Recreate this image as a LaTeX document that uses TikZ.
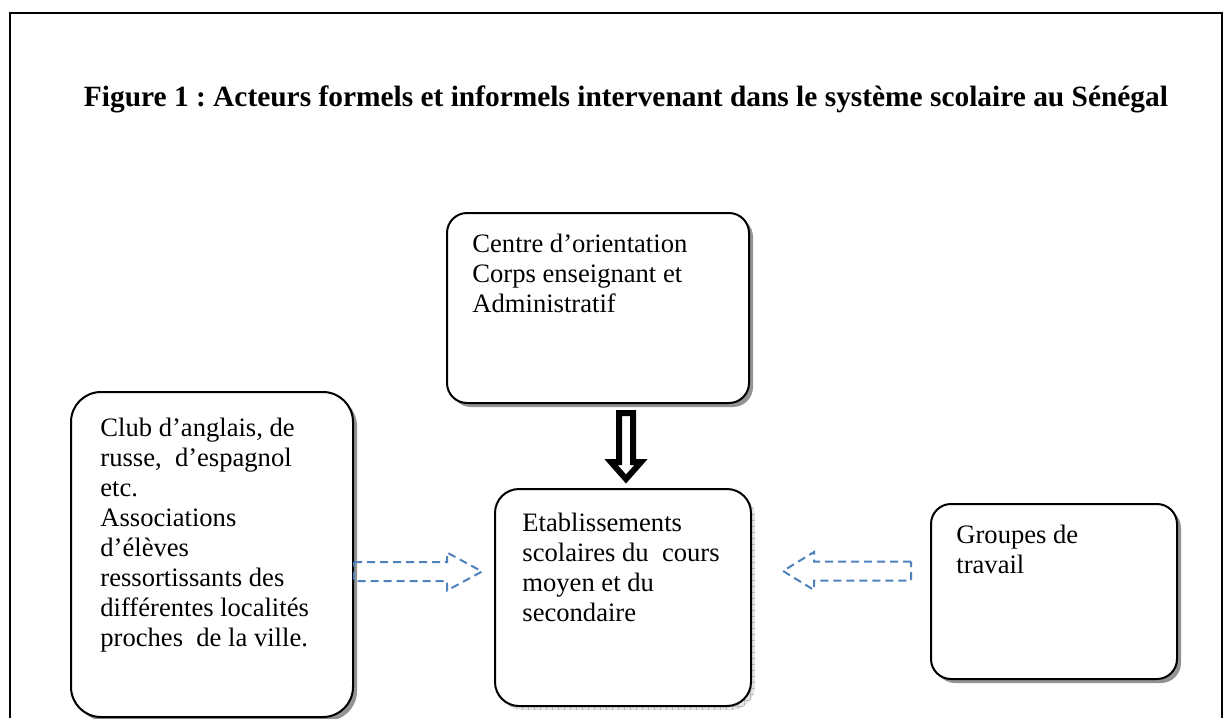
\documentclass[tikz,border=0pt]{standalone}
\usepackage{fontspec}
\setmainfont{Liberation Serif}
\usetikzlibrary{calc,shadows,patterns}
\definecolor{arrow blue}{HTML}{4F81BD}
\frenchspacing
\tikzset{box/.style={draw, line width=1pt, fill=white, rectangle, inner sep=0pt},
    shadowed/.style={drop shadow={shadow xshift=2pt, shadow yshift=-2pt, fill=gray!85, opacity=1}},
    gridshadow/.style={general shadow={shadow xshift=2pt, shadow yshift=-2pt, fill=gray!20},
        general shadow={shadow xshift=2pt, shadow yshift=-2pt, pattern=grid, pattern color=gray!55}},
    boxtext/.style={anchor=north west, inner sep=0pt, align=left, font=\fontsize{13.3}{15}\selectfont},
    hollow/.style={draw, line width=3pt, fill=white, line join=miter},
    dashed arrow/.style={draw=arrow blue, line width=1pt, dash pattern=on 4pt off 2.5pt}}

\begin{document}
\begin{tikzpicture}[x=0.5pt, y=-0.5pt]
     \useasboundingbox (0,0) rectangle (1232,718);
     % frame of the figure
     \draw[line width=1.2pt] (10,718) -- (10,13) -- (1222,13) -- (1222,718);
     \node[font=\bfseries\fontsize{14.7}{16}\selectfont, anchor=base] (title) at (626,106)
         {Figure 1 : Acteurs formels et informels intervenant dans le système scolaire au Sénégal};

     % boxes
     \node[box, shadowed, rounded corners=10pt, minimum width=151pt, minimum height=95pt] (orient) at (598,308) {};
     \node[box, shadowed, rounded corners=15pt, minimum width=141pt, minimum height=162.5pt] (club) at (212,554.5) {};
     \node[box, gridshadow, rounded corners=12pt, minimum width=128pt, minimum height=108.5pt] (etab) at (623,597.5) {};
     \node[box, shadowed, rounded corners=10pt, minimum width=123pt, minimum height=87.5pt] (groupes) at (1054,591.5) {};

     \node[boxtext, xshift=13pt, yshift=-9.5pt] (orient-txt) at (orient.north west)
         {\strut Centre d’orientation\\ Corps enseignant et\\ Administratif};
     \node[boxtext, xshift=15pt, yshift=-12pt] (club-txt) at (club.north west)
         {\strut Club d’anglais, de\\ russe,\ \ d’espagnol\\ etc.\\ Associations\\ d’élèves\\
          ressortissants des\\ différentes localités\\ proches\ \ de la ville.};
     \node[boxtext, xshift=14pt, yshift=-11pt] (etab-txt) at (etab.north west)
         {\strut Etablissements\\ scolaires du\ \ cours\\ moyen et du\\ secondaire};
     \node[boxtext, xshift=13pt, yshift=-9.5pt] (groupes-txt) at (groupes.north west)
         {\strut Groupes de\\ travail};

     % hollow arrow from the top box
     \coordinate (da-e) at ($(etab.north)+(3,-9)$);
     \coordinate (da-s) at ($(orient.south -| da-e)+(0,9)$);
     \draw[hollow] ($(da-s)+(-7,0)$) -- ($(da-e)+(-7,-17)$) -- ($(da-e)+(-15,-17)$) -- (da-e)
                   -- ($(da-e)+(15,-17)$) -- ($(da-e)+(7,-17)$) -- ($(da-s)+(7,0)$) -- cycle;

     % dashed arrows
     \coordinate (la-s) at (club.east |- 0,571.5);
     \coordinate (la-e) at ($(etab.west |- la-s)+(-12,0)$);
     \draw[dashed arrow] ($(la-s)+(0,-9.5)$) -- ($(la-e)+(-35,-9.5)$) -- ($(la-e)+(-35,-19)$) -- (la-e)
                   -- ($(la-e)+(-35,19)$) -- ($(la-e)+(-35,9.5)$) -- ($(la-s)+(0,9.5)$) -- cycle;
     \coordinate (ra-s) at ($(groupes.west |- 0,571)+(-19,0)$);
     \coordinate (ra-e) at ($(etab.east |- ra-s)+(31,0)$);
     \draw[dashed arrow] ($(ra-s)+(0,-9.5)$) -- ($(ra-e)+(31,-9.5)$) -- ($(ra-e)+(31,-19)$) -- (ra-e)
                   -- ($(ra-e)+(31,19)$) -- ($(ra-e)+(31,9.5)$) -- ($(ra-s)+(0,9.5)$) -- cycle;
\end{tikzpicture}
\end{document}
